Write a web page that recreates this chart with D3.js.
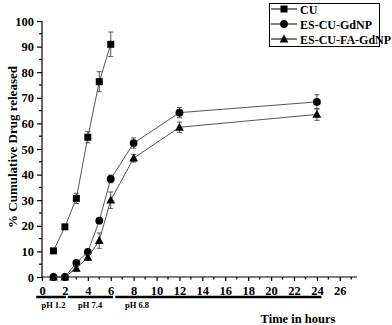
<!DOCTYPE html>
<html>
<head>
<meta charset="utf-8">
<script src="https://cdn.jsdelivr.net/npm/d3@7"></script>
<style>
  html, body { margin: 0; padding: 0; background: #fff; }
  svg { display: block; }
  text { font-family: "Liberation Serif", "Times New Roman", serif; font-weight: bold; fill: #000; }
</style>
</head>
<body>
<svg id="chart" width="392" height="325"></svg>
<script>
// ---- data ----
const seriesNames = ["CU", "ES-CU-GdNP", "ES-CU-FA-GdNP"];
const markerTypes = ["square", "circle", "triangle"];

const cuTime = [1, 2, 3, 4, 5, 6];
const cuValue = [10.2, 19.6, 30.7, 54.6, 76.3, 90.9];
const cuError = [0.6, 0.6, 2.0, 2.2, 3.9, 4.8];

const gdTime = [1, 2, 3, 4, 5, 6, 8, 12, 24];
const gdValue = [0, 0, 5.5, 9.8, 22.0, 38.3, 52.3, 64.2, 68.4];
const gdError = [0, 0, 0.8, 0.8, 1.0, 1.5, 2.0, 2.0, 2.8];

const faTime = [1, 2, 3, 4, 5, 6, 8, 12, 24];
const faValue = [0, 0, 3.4, 7.7, 14.2, 30.0, 46.4, 58.5, 63.5];
const faError = [0, 0, 1.0, 1.0, 3.0, 3.2, 1.5, 2.0, 2.3];

const xTicks = [0, 2, 4, 6, 8, 10, 12, 14, 16, 18, 20, 22, 24, 26];
const yTicks = [0, 10, 20, 30, 40, 50, 60, 70, 80, 90, 100];

const phStart = [-0.5, 2.25, 6.4];
const phEnd = [2.1, 6.2, 24.4];
const phLabel = ["pH 1.2", "pH 7.4", "pH 6.8"];
const phLabelAt = [1.0, 4.2, 8.3];

const xTitle = "Time in hours";
const yTitle = "% Cumulative Drug released";

// ---- layout ----
const svg = d3.select("#chart");
const x = d3.scaleLinear().domain([0, 27.5]).range([42, 357]);
const y = d3.scaleLinear().domain([0, 100]).range([277, 21]);

const series = [
  { name: seriesNames[0], marker: markerTypes[0], pts: cuTime.map((t, i) => ({ t, v: cuValue[i], e: cuError[i] })) },
  { name: seriesNames[1], marker: markerTypes[1], pts: gdTime.map((t, i) => ({ t, v: gdValue[i], e: gdError[i] })) },
  { name: seriesNames[2], marker: markerTypes[2], pts: faTime.map((t, i) => ({ t, v: faValue[i], e: faError[i] })) }
];

function drawMarker(g, type, cx, cy) {
  if (type === "square") {
    g.append("rect").attr("x", cx - 3.5).attr("y", cy - 3.5).attr("width", 7).attr("height", 7).attr("fill", "#000");
  } else if (type === "circle") {
    g.append("circle").attr("cx", cx).attr("cy", cy).attr("r", 3.9).attr("fill", "#000");
  } else {
    g.append("path").attr("d", `M${cx},${cy - 4.6}L${cx + 4.4},${cy + 3.4}L${cx - 4.4},${cy + 3.4}Z`).attr("fill", "#000");
  }
}

// axes
const xAxis = d3.axisBottom(x).tickValues(xTicks).tickSize(4).tickPadding(5).tickFormat(d3.format("d"));
const gx = svg.append("g").attr("transform", `translate(0,${y(0)})`).call(xAxis);
gx.select(".domain").attr("d", `M${x(0)},0H${x(27.5)}`).attr("stroke", "#000").attr("stroke-width", 1.2);
gx.selectAll(".tick line").attr("stroke", "#000").attr("stroke-width", 1.2);
gx.selectAll(".tick text").style("font-size", "12.5px");
const xMinor = d3.range(1, 28, 2);
gx.selectAll(".minor").data(xMinor).enter().append("line")
  .attr("x1", d => x(d)).attr("x2", d => x(d)).attr("y1", 0).attr("y2", 2.5)
  .attr("stroke", "#000").attr("stroke-width", 1.2);

const yAxis = d3.axisLeft(y).tickValues(yTicks).tickSize(5).tickPadding(3);
const gy = svg.append("g").attr("transform", `translate(${x(0)},0)`).call(yAxis);
gy.select(".domain").attr("d", `M0,${y(0)}V${y(100)}`).attr("stroke", "#000").attr("stroke-width", 1.2);
gy.selectAll(".tick line").attr("stroke", "#000").attr("stroke-width", 1.2);
gy.selectAll(".tick text").style("font-size", "12.5px");
const yMinor = d3.range(5, 100, 10);
gy.selectAll(".minor").data(yMinor).enter().append("line")
  .attr("y1", d => y(d)).attr("y2", d => y(d)).attr("x1", 0).attr("x2", -3)
  .attr("stroke", "#000").attr("stroke-width", 1.2);

// series
const line = d3.line().x(d => x(d.t)).y(d => y(d.v));
series.forEach(s => {
  const g = svg.append("g");
  g.append("path").attr("d", line(s.pts)).attr("fill", "none").attr("stroke", "#555").attr("stroke-width", 1);
  s.pts.forEach(p => {
    if (p.e > 0.5) {
      const cx = x(p.t);
      g.append("path")
        .attr("d", `M${cx},${y(p.v + p.e)}V${y(p.v - p.e)}M${cx - 2.5},${y(p.v + p.e)}H${cx + 2.5}M${cx - 2.5},${y(p.v - p.e)}H${cx + 2.5}`)
        .attr("stroke", "#555").attr("stroke-width", 1).attr("fill", "none");
    }
  });
  s.pts.forEach(p => drawMarker(g, s.marker, x(p.t), y(p.v)));
});

// pH bars
phStart.forEach((s, i) => {
  svg.append("line").attr("x1", x(s)).attr("x2", x(phEnd[i])).attr("y1", 297).attr("y2", 297)
    .attr("stroke", "#000").attr("stroke-width", 2.5);
  svg.append("text").attr("x", x(phLabelAt[i])).attr("y", 308).attr("text-anchor", "middle")
    .style("font-size", "8.5px").text(phLabel[i]);
});

// titles
svg.append("text").attr("x", 298).attr("y", 323).attr("text-anchor", "middle").style("font-size", "12.5px").text(xTitle);
svg.append("text").attr("transform", `translate(17,${147}) rotate(-90)`).attr("text-anchor", "middle")
  .style("font-size", "13px").text(yTitle);

// legend
const lg = svg.append("g");
lg.append("rect").attr("x", 269.5).attr("y", 3.5).attr("width", 110).attr("height", 43)
  .attr("fill", "#fff").attr("stroke", "#000").attr("stroke-width", 1);
series.forEach((s, i) => {
  const ly = 9 + i * 15;
  lg.append("line").attr("x1", 271).attr("x2", 297).attr("y1", ly).attr("y2", ly).attr("stroke", "#000").attr("stroke-width", 1);
  drawMarker(lg, s.marker, 284, ly);
  lg.append("text").attr("x", 300).attr("y", ly + 4.5).style("font-size", "12px").text(s.name);
});
</script>
</body>
</html>
